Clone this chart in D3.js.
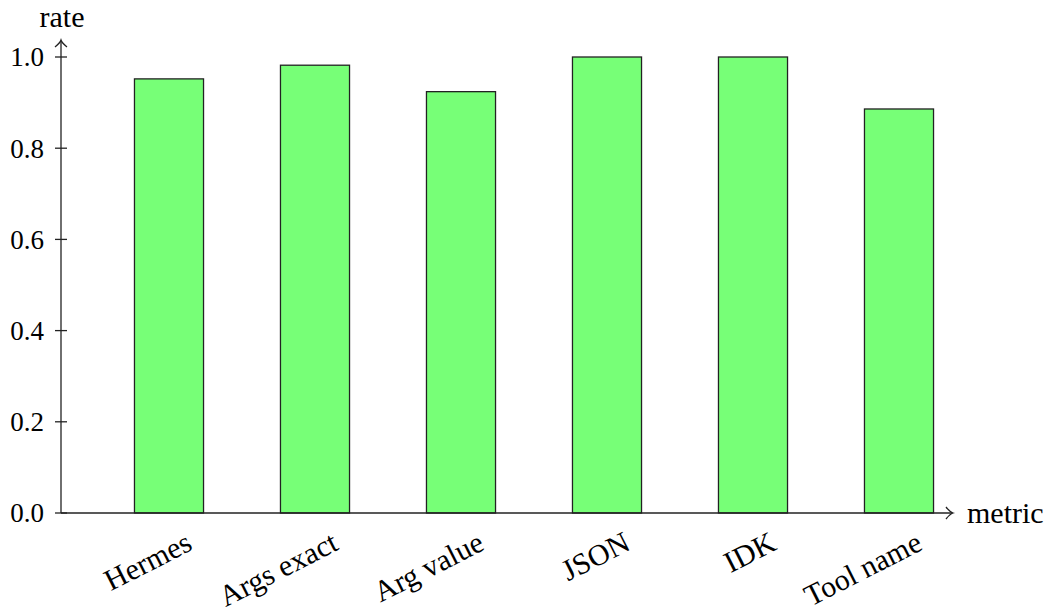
<!DOCTYPE html>
<meta charset="utf-8">
<title>Rate by metric</title>
<style>
body { margin: 0; background: #fff; }
text { font-family: "Liberation Serif", "DejaVu Serif", serif; fill: #000; }
</style>
<script src="https://d3js.org/d3.v7.min.js"></script>
<div id="chart"></div>
<script>

var categories = ["Hermes", "Args exact", "Arg value", "JSON", "IDK", "Tool name"];
var rates = [0.952, 0.982, 0.924, 1.0, 1.0, 0.886];
var yTicks = [0, 0.2, 0.4, 0.6, 0.8, 1.0];

var width = 1056,
    height = 613,
    fontSize = 27,
    wordSize = 30;

var svg = d3.select("#chart").append("svg")
    .attr("width", width)
    .attr("height", height);

var x = d3.scaleBand()
    .domain(categories)
    .range([96, 972])
    .paddingInner(0.527)
    .paddingOuter(0.2635);

var y = d3.scaleLinear()
    .domain([0, 1])
    .range([513, 57]);

var axisX0 = 61, axisX1 = 952, axisYTop = 41;

// bars
svg.selectAll("rect.bar")
    .data(rates)
  .enter().append("rect")
    .attr("class", "bar")
    .attr("x", function(d, i) { return x(categories[i]); })
    .attr("width", x.bandwidth())
    .attr("y", function(d) { return y(d); })
    .attr("height", function(d) { return y(0) - y(d); })
    .attr("fill", "#77ff77")
    .attr("stroke", "#222")
    .attr("stroke-width", 1.3);

// x axis line + arrow
svg.append("line")
    .attr("x1", axisX0).attr("x2", axisX1)
    .attr("y1", y(0)).attr("y2", y(0))
    .attr("stroke", "#222").attr("stroke-width", 1.3);
svg.append("path")
    .attr("d", "M" + (axisX1 - 6) + "," + (y(0) - 6) +
               " Q" + (axisX1 - 2) + "," + (y(0) - 1) + " " + (axisX1 + 1) + "," + y(0) +
               " Q" + (axisX1 - 2) + "," + (y(0) + 1) + " " + (axisX1 - 6) + "," + (y(0) + 6))
    .attr("fill", "none").attr("stroke", "#222").attr("stroke-width", 1.3);

// y axis line + arrow
svg.append("line")
    .attr("x1", axisX0).attr("x2", axisX0)
    .attr("y1", y(0)).attr("y2", axisYTop)
    .attr("stroke", "#222").attr("stroke-width", 1.3);
svg.append("path")
    .attr("d", "M" + (axisX0 - 6) + "," + (axisYTop + 6) +
               " Q" + (axisX0 - 1) + "," + (axisYTop + 2) + " " + axisX0 + "," + (axisYTop - 1) +
               " Q" + (axisX0 + 1) + "," + (axisYTop + 2) + " " + (axisX0 + 6) + "," + (axisYTop + 6))
    .attr("fill", "none").attr("stroke", "#222").attr("stroke-width", 1.3);

// y ticks
var yt = svg.append("g").selectAll("g")
    .data(yTicks)
  .enter().append("g")
    .attr("transform", function(d) { return "translate(0," + y(d) + ")"; });
yt.append("line")
    .attr("x1", axisX0 - 6).attr("x2", axisX0 + 6)
    .attr("stroke", "#222").attr("stroke-width", 1.3);
yt.append("text")
    .attr("x", 44)
    .attr("dy", "0.35em")
    .attr("text-anchor", "end")
    .style("font-size", fontSize + "px")
    .text(function(d) { return d3.format(".1f")(d); });

// x tick labels, rotated
svg.append("g").selectAll("text")
    .data(categories)
  .enter().append("text")
    .attr("transform", function(d) {
      return "translate(" + (x(d) + x.bandwidth() / 2 + 25) + ",549) rotate(-27)";
    })
    .attr("text-anchor", "end")
    .style("font-size", wordSize + "px")
    .text(function(d) { return d; });

// axis labels
svg.append("text")
    .attr("x", 62).attr("y", 27)
    .attr("text-anchor", "middle")
    .style("font-size", wordSize + "px")
    .text("rate");

svg.append("text")
    .attr("x", 967).attr("y", y(0))
    .attr("dy", "0.33em")
    .style("font-size", wordSize + "px")
    .text("metric");
</script>
